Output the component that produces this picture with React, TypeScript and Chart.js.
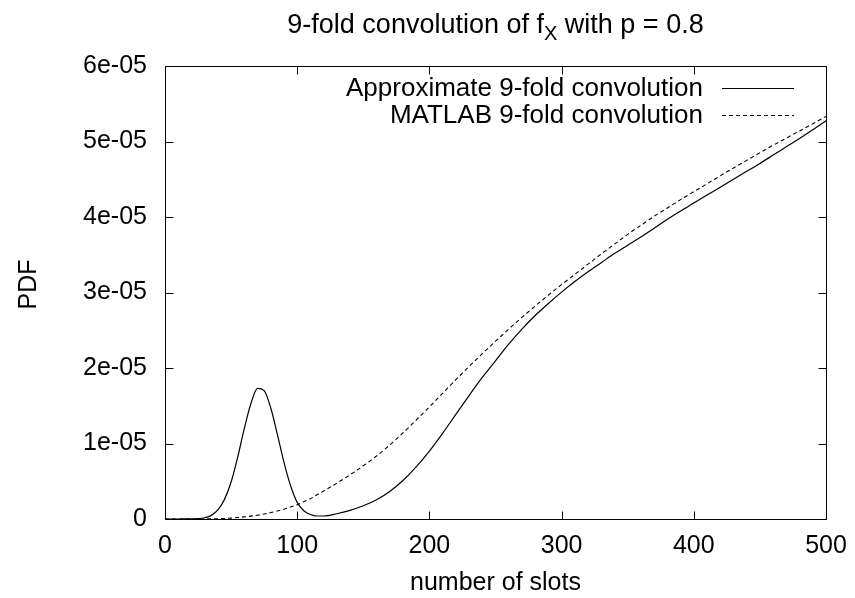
import React, { useEffect, useRef } from "react";
import { Chart, registerables } from "chart.js";

Chart.register(...registerables);

// PDF values are stored in units of 1e-05
const UNIT = 1e-5;

const xSlots = [
  0, 5, 10, 15, 20, 25, 30, 35, 40, 45, 50, 55, 60, 65, 70, 75, 80, 85, 90, 95, 100, 105, 110, 115, 120,
  130, 140, 150, 160, 170, 180, 190, 200, 210, 220, 230, 240, 250, 260, 270, 280, 290, 300,
  310, 320, 330, 340, 350, 360, 370, 380, 390, 400, 410, 420, 430, 440, 450, 460, 470, 480, 490, 500,
];

const approxPdf = [
  0, 0, 0, 0.0005, 0.0015, 0.005, 0.017, 0.048, 0.12, 0.26, 0.49, 0.82, 1.2, 1.53, 1.73, 1.7, 1.47, 1.12, 0.75, 0.44, 0.22, 0.11, 0.06, 0.04, 0.04,
  0.07, 0.115, 0.175, 0.255, 0.365, 0.51, 0.69, 0.9, 1.135, 1.385, 1.635, 1.875, 2.095, 2.315, 2.515, 2.695, 2.855, 3.005,
  3.145, 3.275, 3.395, 3.515, 3.625, 3.735, 3.85, 3.97, 4.08, 4.185, 4.29, 4.395, 4.5, 4.605, 4.71, 4.82, 4.93, 5.04, 5.155, 5.275,
];

const matlabPdf = [
  0, 0, 0, 0, 0, 0, 0.001, 0.002, 0.004, 0.007, 0.012, 0.019, 0.028, 0.038, 0.05, 0.066, 0.085, 0.106, 0.13, 0.158, 0.19, 0.23, 0.27, 0.32, 0.37,
  0.475, 0.585, 0.705, 0.835, 0.98, 1.14, 1.31, 1.485, 1.665, 1.845, 2.02, 2.19, 2.355, 2.515, 2.67, 2.82, 2.965, 3.105,
  3.24, 3.375, 3.51, 3.64, 3.77, 3.89, 4.01, 4.12, 4.23, 4.335, 4.44, 4.545, 4.65, 4.75, 4.85, 4.95, 5.045, 5.14, 5.235, 5.332,
];

const seriesNames = ["Approximate 9-fold convolution", "MATLAB 9-fold convolution"];
const yTickLabels = ["0", "1e-05", "2e-05", "3e-05", "4e-05", "5e-05", "6e-05"];
const xTickValues = [0, 100, 200, 300, 400, 500];

const FONT = '"Liberation Sans", Arial, Helvetica, sans-serif';

const decorPlugin = {
  id: "gnuplotDecor",
  afterDraw(chart: any) {
    const { ctx, chartArea } = chart;
    const { left, right, top, bottom } = chartArea;
    const xs = chart.scales.x;
    const ys = chart.scales.y;
    ctx.save();
    ctx.strokeStyle = "#000";
    ctx.fillStyle = "#000";
    ctx.lineWidth = 1;
    ctx.setLineDash([]);
    const L = Math.round(left) + 0.5;
    const R = Math.round(right) + 0.5;
    const T = Math.round(top) + 0.5;
    const B = Math.round(bottom) + 0.5;
    ctx.beginPath();
    ctx.rect(L, T, R - L, B - T);
    ctx.stroke();
    // inward tick marks (mirrored)
    const tl = 8;
    ctx.beginPath();
    xTickValues.forEach((v) => {
      const px = Math.round(xs.getPixelForValue(v)) + 0.5;
      ctx.moveTo(px, B);
      ctx.lineTo(px, B - tl);
      ctx.moveTo(px, T);
      ctx.lineTo(px, T + tl);
    });
    yTickLabels.forEach((_, i) => {
      const py = Math.round(ys.getPixelForValue(i * UNIT)) + 0.5;
      ctx.moveTo(L, py);
      ctx.lineTo(L + tl, py);
      ctx.moveTo(R, py);
      ctx.lineTo(R - tl, py);
    });
    ctx.stroke();

    const cx = (left + right) / 2;
    // title with subscript
    const p1 = "9-fold convolution of f";
    const sub = "X";
    const p2 = " with p = 0.8";
    ctx.font = `27px ${FONT}`;
    const w1 = ctx.measureText(p1).width;
    const w3 = ctx.measureText(p2).width;
    ctx.font = `20px ${FONT}`;
    const w2 = ctx.measureText(sub).width;
    const sx = cx - (w1 + w2 + w3) / 2;
    ctx.textAlign = "left";
    ctx.textBaseline = "alphabetic";
    ctx.font = `27px ${FONT}`;
    ctx.fillText(p1, sx, 33);
    ctx.font = `20px ${FONT}`;
    ctx.fillText(sub, sx + w1, 40);
    ctx.font = `27px ${FONT}`;
    ctx.fillText(p2, sx + w1 + w2, 33);

    // axis titles
    ctx.font = `25px ${FONT}`;
    ctx.textAlign = "center";
    ctx.fillText("number of slots", cx, 590);
    ctx.save();
    ctx.translate(36, (top + bottom) / 2 - 8);
    ctx.rotate(-Math.PI / 2);
    ctx.fillText("PDF", 0, 0);
    ctx.restore();

    // legend (gnuplot style: right aligned text, sample on the right)
    ctx.font = `26px ${FONT}`;
    ctx.textAlign = "right";
    const textRight = right - 123;
    const sampleL = right - 104;
    const sampleR = right - 32;
    const rows = [
      { base: 96, mid: 88, dash: [] as number[] },
      { base: 123, mid: 115, dash: [4, 3] },
    ];
    rows.forEach((r, i) => {
      ctx.fillText(seriesNames[i], textRight, r.base);
      ctx.setLineDash(r.dash);
      ctx.beginPath();
      ctx.moveTo(sampleL, r.mid + 0.5);
      ctx.lineTo(sampleR, r.mid + 0.5);
      ctx.stroke();
    });
    ctx.restore();
  },
};

export default function App() {
  const canvasRef = useRef<HTMLCanvasElement | null>(null);

  useEffect(() => {
    document.body.style.margin = "0";
    const canvas = canvasRef.current;
    if (!canvas) return;
    const chart = new Chart(canvas, {
      type: "line",
      data: {
        datasets: [
          {
            label: seriesNames[0],
            data: xSlots.map((x, i) => ({ x, y: approxPdf[i] * UNIT })),
            borderColor: "#000",
            borderWidth: 1.2,
            pointRadius: 0,
            cubicInterpolationMode: "monotone",
            fill: false,
          },
          {
            label: seriesNames[1],
            data: xSlots.map((x, i) => ({ x, y: matlabPdf[i] * UNIT })),
            borderColor: "#000",
            borderWidth: 1.1,
            borderDash: [4, 3],
            pointRadius: 0,
            cubicInterpolationMode: "monotone",
            fill: false,
          },
        ],
      },
      options: {
        animation: false,
        responsive: false,
        maintainAspectRatio: false,
        devicePixelRatio: 1,
        layout: { padding: { top: 66, right: 29, left: 0, bottom: 0 } },
        plugins: {
          legend: { display: false },
          title: { display: false },
          tooltip: { enabled: false },
        },
        scales: {
          x: {
            type: "linear",
            min: 0,
            max: 500,
            grid: { display: false, drawTicks: false },
            border: { display: false },
            afterFit: (s: any) => {
              s.height = 79;
              s.paddingLeft = 0;
              s.paddingRight = 0;
            },
            afterBuildTicks: (s: any) => {
              s.ticks = xTickValues.map((v) => ({ value: v }));
            },
            ticks: {
              color: "#000",
              padding: 12,
              maxRotation: 0,
              autoSkip: false,
              font: { family: FONT, size: 25 },
              callback: (v: any) => String(v),
            },
          },
          y: {
            type: "linear",
            min: 0,
            max: 6 * UNIT,
            grid: { display: false, drawTicks: false },
            border: { display: false },
            afterFit: (s: any) => {
              s.width = 165;
              s.paddingTop = 0;
              s.paddingBottom = 0;
            },
            afterBuildTicks: (s: any) => {
              s.ticks = yTickLabels.map((_, i) => ({ value: i * UNIT }));
            },
            ticks: {
              color: "#000",
              padding: 18,
              autoSkip: false,
              font: { family: FONT, size: 25 },
              callback: (v: any) => yTickLabels[Math.round(Number(v) / UNIT)] ?? "",
            },
          },
        },
      },
      plugins: [decorPlugin],
    });
    return () => chart.destroy();
  }, []);

  return (
    <div style={{ width: 855, height: 598, background: "#fff" }}>
      <canvas ref={canvasRef} width={855} height={598} style={{ display: "block" }} />
    </div>
  );
}
